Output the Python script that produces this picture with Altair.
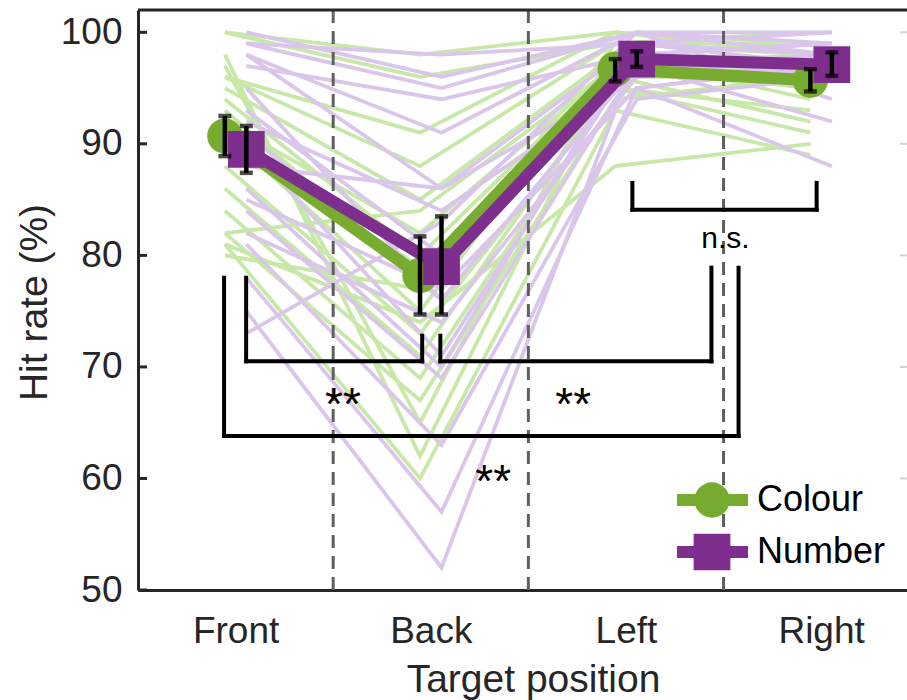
import altair as alt
import pandas as pd

# ---------------- data ----------------
CATEGORIES = ["Front", "Back", "Left", "Right"]
CONDITIONS = ["Colour", "Number"]

COLOUR_MEAN = [90.7, 78.2, 96.7, 95.7]
COLOUR_ERR_LO = [88.9, 74.7, 95.6, 94.7]
COLOUR_ERR_HI = [92.5, 81.7, 97.6, 96.7]
NUMBER_MEAN = [89.5, 79.0, 97.6, 97.1]
NUMBER_ERR_LO = [87.4, 74.7, 96.9, 96.1]
NUMBER_ERR_HI = [91.6, 83.5, 98.3, 98.2]

COLOUR_FRONT = [100, 100, 98, 97, 96, 96, 95, 94, 93, 92, 91, 90, 88, 86, 84, 82, 81, 81, 80, 82]
COLOUR_BACK = [98, 96, 62, 65, 91, 88, 85, 80, 78, 82, 75, 79, 73, 71, 69, 67, 60, 74, 77, 84]
COLOUR_LEFT = [100, 99, 97, 98, 100, 99, 98, 97, 96, 97, 98, 96, 95, 96, 95, 94, 93, 88, 99, 97]
COLOUR_RIGHT = [99, 100, 96, 97, 98, 99, 97, 95, 96, 98, 94, 97, 93, 92, 91, 96, 89, 90, 98, 95]

NUMBER_FRONT = [100, 99, 99, 98, 98, 97, 95, 93, 92, 91, 90, 88, 86, 85, 84, 82, 81, 78, 75, 73]
NUMBER_BACK = [96, 95, 98, 91, 86, 94, 76, 80, 84, 76, 71, 86, 70, 77, 69, 74, 63, 57, 52, 83]
NUMBER_LEFT = [100, 100, 99, 100, 99, 98, 97, 98, 96, 97, 98, 96, 99, 95, 97, 96, 94, 95, 98, 100]
NUMBER_RIGHT = [100, 99, 100, 98, 97, 99, 98, 96, 97, 92, 99, 97, 98, 88, 97, 98, 96, 97, 99, 94]

# significance brackets (data coordinates)
BRACKET_LEFT_X = [1.054, 2.049, 0.941, 3.033]
BRACKET_RIGHT_X = [1.956, 3.438, 3.577, 3.977]
BRACKET_BAR_Y = [70.5, 70.5, 63.8, 84.1]
BRACKET_LEFT_TOP = [78.0, 72.8, 78.0, 86.5]
BRACKET_RIGHT_TOP = [72.8, 78.9, 78.9, 86.5]
SIG_LABELS = ["**", "**", "**", "n.s."]
SIG_X = [1.55, 2.73, 2.32, 3.51]
SIG_Y = [65.2, 65.2, 58.3, 80.7]

Y_TICKS = [50, 60, 70, 80, 90, 100]

# ---------------- styling ----------------
OFFSET = 0.055
GREEN, PURPLE = "#77AC30", "#7E2F8E"
GREEN_LIGHT, PURPLE_LIGHT = "#c8e8a8", "#dac6ea"
INK = "#262626"
FONT = "Liberation Sans"
W, H = 769, 580
X_DOMAIN = [0.5, 4.44]
Y_DOMAIN = [50, 102]

label_expr = "[" + ",".join(f"'{c}'" for c in CATEGORIES) + "][datum.value - 1]"

x_axis = alt.Axis(values=list(range(1, len(CATEGORIES) + 1)), labelExpr=label_expr,
                  labelFont=FONT, labelFontSize=37, labelColor=INK, labelBaseline="alphabetic",
                  labelPadding=52, ticks=False, tickSize=0, grid=False,
                  domainColor=INK, domainWidth=3,
                  titleFont=FONT, titleFontSize=39, titleFontWeight="normal", titleColor=INK,
                  titleX=395, titleY=101, titleBaseline="alphabetic", titleAnchor="middle")
y_axis = alt.Axis(values=Y_TICKS, labelFont=FONT, labelFontSize=37, labelColor=INK,
                  labelPadding=16, ticks=False, tickSize=0, grid=False,
                  domainColor=INK, domainWidth=3,
                  titleFont=FONT, titleFontSize=39, titleFontWeight="normal", titleColor=INK,
                  titleX=-104, titleY=292, titleAngle=270, titleBaseline="middle",
                  titleAlign="center")

xscale = alt.Scale(domain=X_DOMAIN, nice=False, zero=False)
yscale = alt.Scale(domain=Y_DOMAIN, nice=False, zero=False)


def X(field):
    return alt.X(f"{field}:Q", scale=xscale, axis=x_axis, title="Target position")


def Y(field):
    return alt.Y(f"{field}:Q", scale=yscale, axis=y_axis, title="Hit rate (%)")


def indiv_df(cond, cols, offset):
    rows = []
    for i in range(len(cols[0])):
        for j in range(len(CATEGORIES)):
            rows.append({"pid": f"{cond}{i}", "x": j + 1 + offset, "v": cols[j][i]})
    return pd.DataFrame(rows)


def mean_df(means, lo, hi, offset):
    return pd.DataFrame({"x": [j + 1 + offset for j in range(len(CATEGORIES))],
                         "v": means, "lo": lo, "hi": hi})


colour_ind = indiv_df("c", [COLOUR_FRONT, COLOUR_BACK, COLOUR_LEFT, COLOUR_RIGHT], -OFFSET)
number_ind = indiv_df("n", [NUMBER_FRONT, NUMBER_BACK, NUMBER_LEFT, NUMBER_RIGHT], OFFSET)
colour_m = mean_df(COLOUR_MEAN, COLOUR_ERR_LO, COLOUR_ERR_HI, -OFFSET)
number_m = mean_df(NUMBER_MEAN, NUMBER_ERR_LO, NUMBER_ERR_HI, OFFSET)

layers = []
# individual participants
layers.append(alt.Chart(colour_ind).mark_line(color=GREEN_LIGHT, strokeWidth=3.8)
              .encode(x=X("x"), y=Y("v"), detail="pid:N"))
layers.append(alt.Chart(number_ind).mark_line(color=PURPLE_LIGHT, strokeWidth=3.8)
              .encode(x=X("x"), y=Y("v"), detail="pid:N"))

# dashed separators
sep = pd.DataFrame({"x": [j + 1.5 for j in range(len(CATEGORIES) - 1)]})
layers.append(alt.Chart(sep).mark_rule(color="#5f5f5f", strokeWidth=3, strokeDash=[13, 8])
              .encode(x=X("x")))

# means
for df, col, shape, size in [(colour_m, GREEN, "circle", 1250), (number_m, PURPLE, "square", 1350)]:
    layers.append(alt.Chart(df).mark_line(color=col, strokeWidth=12).encode(x=X("x"), y=Y("v")))
    layers.append(alt.Chart(df).mark_point(shape=shape, filled=True, size=size, color=col, opacity=1)
                  .encode(x=X("x"), y=Y("v")))

# error bars
for df in [colour_m, number_m]:
    layers.append(alt.Chart(df).mark_rule(color="black", strokeWidth=4.5)
                  .encode(x=X("x"), y=Y("lo"), y2="hi:Q"))
    for f in ["lo", "hi"]:
        layers.append(alt.Chart(df).mark_tick(color="black", orient="horizontal", size=13, thickness=4.5)
                      .encode(x=X("x"), y=Y(f)))

# significance brackets
segs = []
for xl, xr, yb, tl, tr in zip(BRACKET_LEFT_X, BRACKET_RIGHT_X, BRACKET_BAR_Y,
                              BRACKET_LEFT_TOP, BRACKET_RIGHT_TOP):
    segs.append({"x": xl, "x2": xl, "v": yb, "v2": tl})
    segs.append({"x": xr, "x2": xr, "v": yb, "v2": tr})
    segs.append({"x": xl, "x2": xr, "v": yb, "v2": yb})
layers.append(alt.Chart(pd.DataFrame(segs)).mark_rule(color="black", strokeWidth=4, strokeCap="square")
              .encode(x=X("x"), x2="x2:Q", y=Y("v"), y2="v2:Q"))

sig = pd.DataFrame({"x": SIG_X, "v": SIG_Y, "t": SIG_LABELS})
layers.append(alt.Chart(sig).transform_filter("datum.t == '**'")
              .mark_text(font=FONT, fontSize=46, color="black", baseline="alphabetic", align="center")
              .encode(x=X("x"), y=Y("v"), text="t:N"))
layers.append(alt.Chart(sig).transform_filter("datum.t != '**'")
              .mark_text(font=FONT, fontSize=30, color="black", baseline="alphabetic", align="center")
              .encode(x=X("x"), y=Y("v"), text="t:N"))

# frame: inward ticks and top line
ticks = pd.DataFrame({"v": Y_TICKS})
layers.append(alt.Chart(ticks).mark_rule(color=INK, strokeWidth=3)
              .encode(y=Y("v"), x=alt.value(0), x2=alt.value(9)))
layers.append(alt.Chart(ticks[ticks.v > Y_TICKS[0]]).mark_rule(color="#d4d4d4", strokeWidth=2)
              .encode(y=Y("v"), x=alt.value(W - 7), x2=alt.value(W)))
layers.append(alt.Chart(pd.DataFrame({"v": [Y_DOMAIN[1]]})).mark_rule(color=INK, strokeWidth=3)
              .encode(y=Y("v")))

# legend
one = pd.DataFrame({"a": [0]})
for (name, col, shape, size), ly in zip([(CONDITIONS[0], GREEN, "circle", 1250),
                                         (CONDITIONS[1], PURPLE, "square", 1350)], [490, 542]):
    layers.append(alt.Chart(one).mark_rule(color=col, strokeWidth=12)
                  .encode(x=alt.value(539), x2=alt.value(610), y=alt.value(ly)))
    layers.append(alt.Chart(one).mark_point(shape=shape, filled=True, size=size, color=col, opacity=1)
                  .encode(x=alt.value(574), y=alt.value(ly)))
    layers.append(alt.Chart(one).mark_text(text=name, font=FONT, fontSize=36, color="black",
                                           align="left", baseline="middle")
                  .encode(x=alt.value(619), y=alt.value(ly)))

chart = (alt.layer(*layers)
         .properties(width=W, height=H, background="white",
                     autosize=alt.AutoSizeParams(type="none"),
                     padding={"left": 138, "top": 10, "right": 0, "bottom": 110})
         .configure_view(stroke=None))

chart.save("out.html", embed_options={"renderer": "svg", "actions": False})
